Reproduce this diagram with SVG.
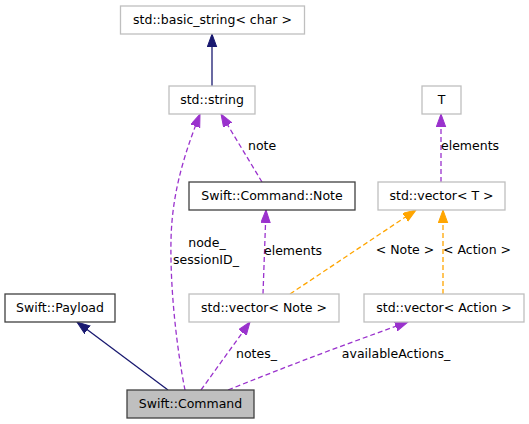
<svg xmlns="http://www.w3.org/2000/svg" width="529" height="424" viewBox="0 0 529 424">
<style>
text{font-family:"DejaVu Sans","Liberation Sans",sans-serif;font-size:12.5px;fill:#000}
.c{text-anchor:middle}
.ext{fill:#fff;stroke:#bfbfbf;stroke-width:1.3}
.doc{fill:#fff;stroke:#404040;stroke-width:1.3}
.cur{fill:#bfbfbf;stroke:#404040;stroke-width:1.3}
.inh{fill:none;stroke:#191970;stroke-width:1.3}
.use{fill:none;stroke:#9a32cd;stroke-width:1.3;stroke-dasharray:5,3}
.tpl{fill:none;stroke:#ffa500;stroke-width:1.3;stroke-dasharray:5,3}
</style>
<defs>
<marker id="aN" markerUnits="userSpaceOnUse" markerWidth="15" markerHeight="11" refX="13" refY="4.75" orient="auto"><path d="M0,0 L13,4.75 L0,9.5 z" fill="#191970" stroke="#191970"/></marker>
<marker id="aP" markerUnits="userSpaceOnUse" markerWidth="15" markerHeight="11" refX="13" refY="4.75" orient="auto"><path d="M0,0 L13,4.75 L0,9.5 z" fill="#9a32cd" stroke="#9a32cd"/></marker>
<marker id="aO" markerUnits="userSpaceOnUse" markerWidth="15" markerHeight="11" refX="13" refY="4.75" orient="auto"><path d="M0,0 L13,4.75 L0,9.5 z" fill="#ffa500" stroke="#ffa500"/></marker>
</defs>
<g id="edges">
<path class="inh" d="M212,86 L212,34" marker-end="url(#aN)"/>
<path class="inh" d="M168,390 L77,322" marker-end="url(#aN)"/>
<path class="use" d="M441,182 L441,114" marker-end="url(#aP)"/>
<path class="tpl" d="M443,294 L443,210" marker-end="url(#aO)"/>
<path class="tpl" d="M290,294 L416,210" marker-end="url(#aO)"/>
<path class="use" d="M263,294 L266,210" marker-end="url(#aP)"/>
<path class="use" d="M262,182 L221,114" marker-end="url(#aP)"/>
<path class="use" d="M185,390 C177,350 170,290 171,240 C172,190 186,150 200,114" marker-end="url(#aP)"/>
<path class="use" d="M201,390 L250,322" marker-end="url(#aP)"/>
<path class="use" d="M228,390 Q320,353 408,322" marker-end="url(#aP)"/>
<text x="441" y="150">elements</text>
<text x="443" y="254">&lt; Action &gt;</text>
<text class="c" x="405" y="254">&lt; Note &gt;</text>
<text x="264" y="255">elements</text>
<text x="248" y="150">note</text>
<text class="c" x="207" y="247">node_</text>
<text class="c" x="206" y="263.5">sessionID_</text>
<text class="c" x="256.5" y="358">notes_</text>
<text class="c" x="396" y="358">availableActions_</text>
</g>
<g id="n_basic_string"><rect class="ext" x="120.5" y="6" width="184" height="28"/><text class="c" x="212.5" y="24">std::basic_string&lt; char &gt;</text></g>
<g id="n_string"><rect class="ext" x="169" y="86" width="86" height="28"/><text class="c" x="212" y="104">std::string</text></g>
<g id="n_T"><rect class="ext" x="422" y="86" width="39" height="28"/><text class="c" x="441.5" y="104">T</text></g>
<g id="n_note"><rect class="doc" x="189" y="182" width="166" height="28"/><text class="c" x="272" y="200">Swift::Command::Note</text></g>
<g id="n_vectorT"><rect class="ext" x="378" y="182" width="127" height="28"/><text class="c" x="441.5" y="200">std::vector&lt; T &gt;</text></g>
<g id="n_payload"><rect class="doc" x="5" y="294" width="110" height="28"/><text class="c" x="60" y="312">Swift::Payload</text></g>
<g id="n_vectorNote"><rect class="ext" x="189" y="294" width="150" height="28"/><text class="c" x="264" y="312">std::vector&lt; Note &gt;</text></g>
<g id="n_vectorAction"><rect class="ext" x="364" y="294" width="160" height="28"/><text class="c" x="444" y="312">std::vector&lt; Action &gt;</text></g>
<g id="n_command"><rect class="cur" x="127" y="390" width="127" height="28"/><text class="c" x="190.5" y="408">Swift::Command</text></g>
</svg>
